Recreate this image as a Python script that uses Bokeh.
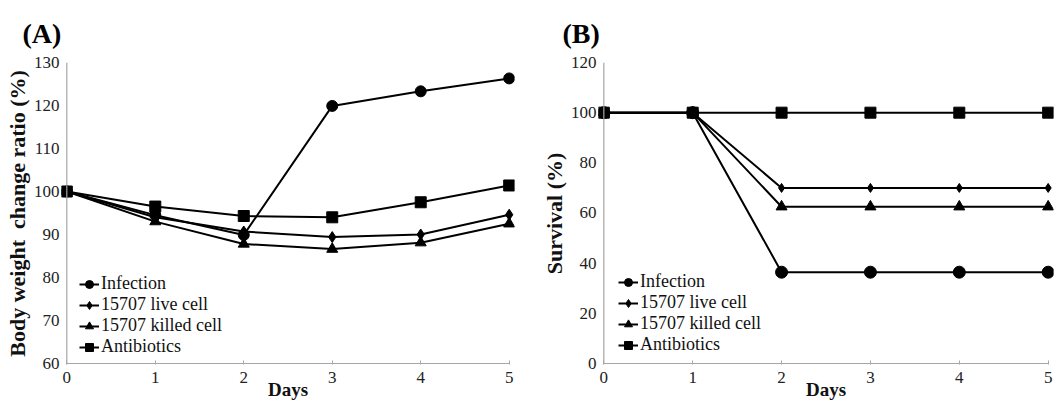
from bokeh.plotting import figure
from bokeh.layouts import row
from bokeh.models import Span, Legend, LegendItem, Range1d, FixedTicker
from bokeh.embed import file_html
from bokeh.resources import INLINE

days = [0, 1, 2, 3, 4, 5]
series_names = ["Infection", "15707 live cell", "15707 killed cell", "Antibiotics"]
markers = ["circle", "diamond", "triangle", "square"]

# Panel A: body weight change ratio (%)
bw_infection = [100, 94.5, 89.9, 119.9, 123.3, 126.3]
bw_live = [100, 94.0, 90.7, 89.4, 90.0, 94.6]
bw_killed = [100, 93.0, 87.8, 86.6, 88.1, 92.5]
bw_antibiotics = [100, 96.5, 94.3, 94.0, 97.5, 101.4]

# Panel B: survival (%)
sv_infection = [100, 100, 36.4, 36.4, 36.4, 36.4]
sv_live = [100, 100, 70, 70, 70, 70]
sv_killed = [100, 100, 62.5, 62.5, 62.5, 62.5]
sv_antibiotics = [100, 100, 100, 100, 100, 100]

yticks_a = [60, 70, 80, 90, 100, 110, 120, 130]
yticks_b = [0, 20, 40, 60, 80, 100, 120]

SERIF = "Liberation Serif"
AXIS_GRAY = "#a6a6a6"
PAD = 0.06


def make_panel(tag, tag_offset, series, yticks, ylabel, width, bl, br, sizes, legend_loc, ypx):
    y0, y1 = yticks[0], yticks[-1]
    ypad = 1.0 / ypx
    p = figure(width=width, height=402, output_backend="svg", toolbar_location=None,
               x_range=Range1d(days[0] - PAD, days[-1] + PAD),
               y_range=Range1d(y0 - ypad, y1),
               min_border_left=bl, min_border_right=br,
               min_border_top=62, min_border_bottom=36)
    p.outline_line_color = None
    p.grid.visible = False
    p.background_fill_color = "white"
    p.border_fill_color = "white"

    p.title.text = tag
    p.title.text_font = SERIF
    p.title.text_font_size = "28px"
    p.title.text_font_style = "bold"
    p.title.text_color = "black"
    p.title.align = "left"
    p.title.offset = tag_offset
    p.title.standoff = 28

    p.xaxis.ticker = FixedTicker(ticks=days)
    p.yaxis.ticker = FixedTicker(ticks=yticks)
    for ax in (p.xaxis, p.yaxis):
        ax.axis_line_color = None
        ax.minor_tick_line_color = None
        ax.major_label_text_font = SERIF
        ax.major_label_text_font_size = "17px"
        ax.major_label_text_color = "#222222"
        ax.axis_label_text_font = SERIF
        ax.axis_label_text_font_style = "bold"
        ax.axis_label_text_color = "#111111"
    p.xaxis.major_tick_in = 4
    p.xaxis.major_tick_out = 0
    p.xaxis.major_tick_line_color = AXIS_GRAY
    p.xaxis.major_label_standoff = 7
    p.xaxis.axis_label_standoff = -7
    p.xaxis.axis_label = "Days"
    p.xaxis.axis_label_text_font_size = "19px"
    p.yaxis.major_tick_in = 0
    p.yaxis.major_tick_out = 0
    p.yaxis.major_label_standoff = 2
    p.yaxis.axis_label_standoff = 1
    p.yaxis.axis_label = ylabel
    p.yaxis.axis_label_text_font_size = "22px"

    # axis lines drawn at the data origin
    p.add_layout(Span(location=days[0], dimension="height", line_color=AXIS_GRAY, line_width=1.2))
    p.segment(x0=[days[0]], y0=[y0], x1=[days[-1]], y1=[y0], line_color=AXIS_GRAY, line_width=1.2)

    items = []
    for name, ys, mk, sz in zip(series_names, series, markers, sizes):
        lr = p.line(days, ys, line_color="black", line_width=2)
        sr = p.scatter(days, ys, marker=mk, size=sz, fill_color="black", line_color="black")
        items.append(LegendItem(label=name, renderers=[lr, sr]))

    leg = Legend(items=items, location=legend_loc, padding=0, margin=0, spacing=0,
                 glyph_width=20, glyph_height=20, label_height=20, label_standoff=2,
                 label_text_font=SERIF, label_text_font_size="18px",
                 label_text_color="#111111",
                 background_fill_alpha=0, border_line_color=None)
    p.add_layout(leg)
    return p


pa = make_panel("(A)", -39, [bw_infection, bw_live, bw_killed, bw_antibiotics], yticks_a,
                "Body weight\u00a0 change ratio (%)", 532, 61, 18, [11, 11, 11, 11],
                (18, 7), 4.3)
pb = make_panel("(B)", -36, [sv_infection, sv_live, sv_killed, sv_antibiotics], yticks_b,
                "Survival (%)", 523, 66, 2, [12, 9, 11, 11],
                (20, 9), 2.5)

layout = row(pa, pb, spacing=0)
open("out.html", "w").write(file_html(layout, INLINE))
